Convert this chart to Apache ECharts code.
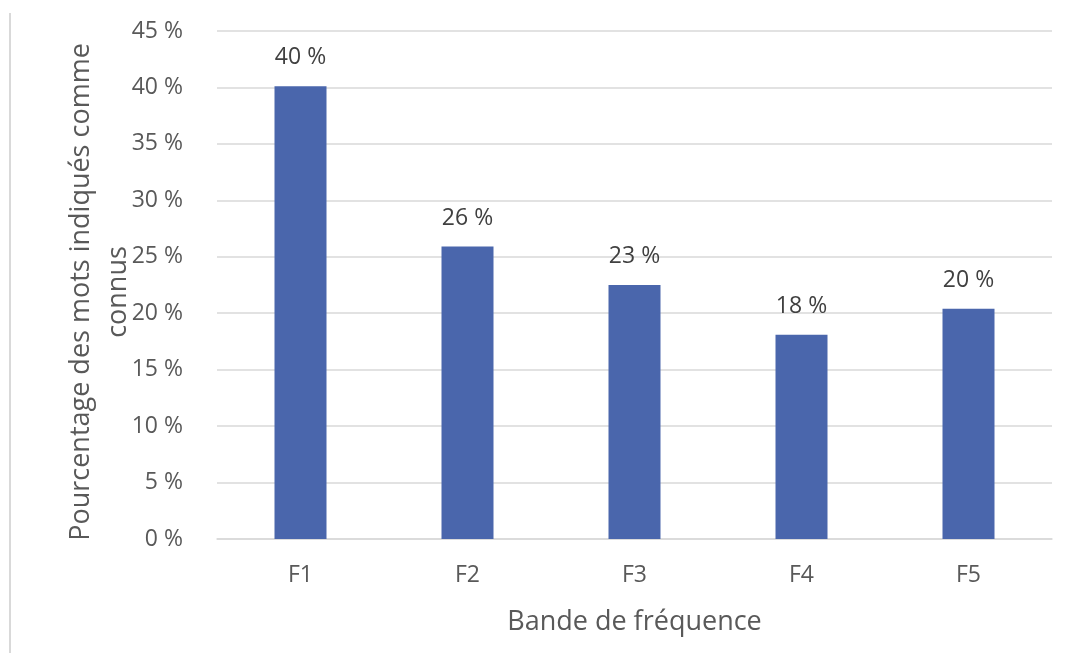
<!DOCTYPE html>
<html>
<head>
<meta charset="utf-8">
<script src="https://cdn.jsdelivr.net/npm/echarts@6/dist/echarts.min.js"></script>
<style>
  html, body { margin: 0; padding: 0; background: #ffffff; }
  #frame { position: absolute; left: 9px; top: 13px; width: 0; height: 640px; border-left: 2px solid #d9d9d9; }
  #chart { width: 1072px; height: 653px; }
</style>
</head>
<body>
<div id="chart"></div>
<div id="frame"></div>
<script>
// Share of words marked as known, per frequency band
const categories = ['F1', 'F2', 'F3', 'F4', 'F5'];
const knownShare = [40.1, 25.9, 22.5, 18.1, 20.4];
const yTicks = [0, 5, 10, 15, 20, 25, 30, 35, 40, 45];

const FONT = 'Open Sans';
const TEXT = '#595959';

const chart = echarts.init(document.getElementById('chart'), null, { renderer: 'canvas' });
chart.setOption({
  animation: false,
  grid: { left: 217, right: 20, top: 31, bottom: 114, containLabel: false },
  xAxis: {
    type: 'category',
    data: categories,
    name: 'Bande de fréquence',
    nameLocation: 'middle',
    nameGap: 70,
    nameMoveOverlap: false,
    nameTextStyle: { fontFamily: FONT, fontSize: 27, color: TEXT },
    axisLine: { lineStyle: { color: '#d9d9d9', width: 1.5 } },
    axisTick: { show: false },
    axisLabel: { fontFamily: FONT, fontSize: 23, color: TEXT, margin: 25 }
  },
  yAxis: {
    type: 'value',
    min: yTicks[0],
    max: yTicks[yTicks.length - 1],
    interval: 5,
    name: 'Pourcentage des mots indiqués comme\nconnus',
    nameLocation: 'middle',
    nameGap: 80,
    nameMoveOverlap: false,
    nameTextStyle: { fontFamily: FONT, fontSize: 27, color: TEXT, lineHeight: 37, align: 'center', padding: [0, 14, 0, 0] },
    axisLine: { show: false },
    axisTick: { show: false },
    axisLabel: { fontFamily: FONT, fontSize: 23, color: TEXT, margin: 34, formatter: v => v + ' %' },
    splitLine: { lineStyle: { color: '#d9d9d9', width: 1.5 } }
  },
  series: [{
    type: 'bar',
    data: knownShare,
    barWidth: 52,
    itemStyle: { color: '#4a66ac' },
    label: {
      show: true,
      position: 'top',
      distance: 17,
      fontFamily: FONT,
      fontSize: 23,
      color: '#404040',
      formatter: p => Math.round(p.value) + ' %'
    }
  }]
});
</script>
</body>
</html>
